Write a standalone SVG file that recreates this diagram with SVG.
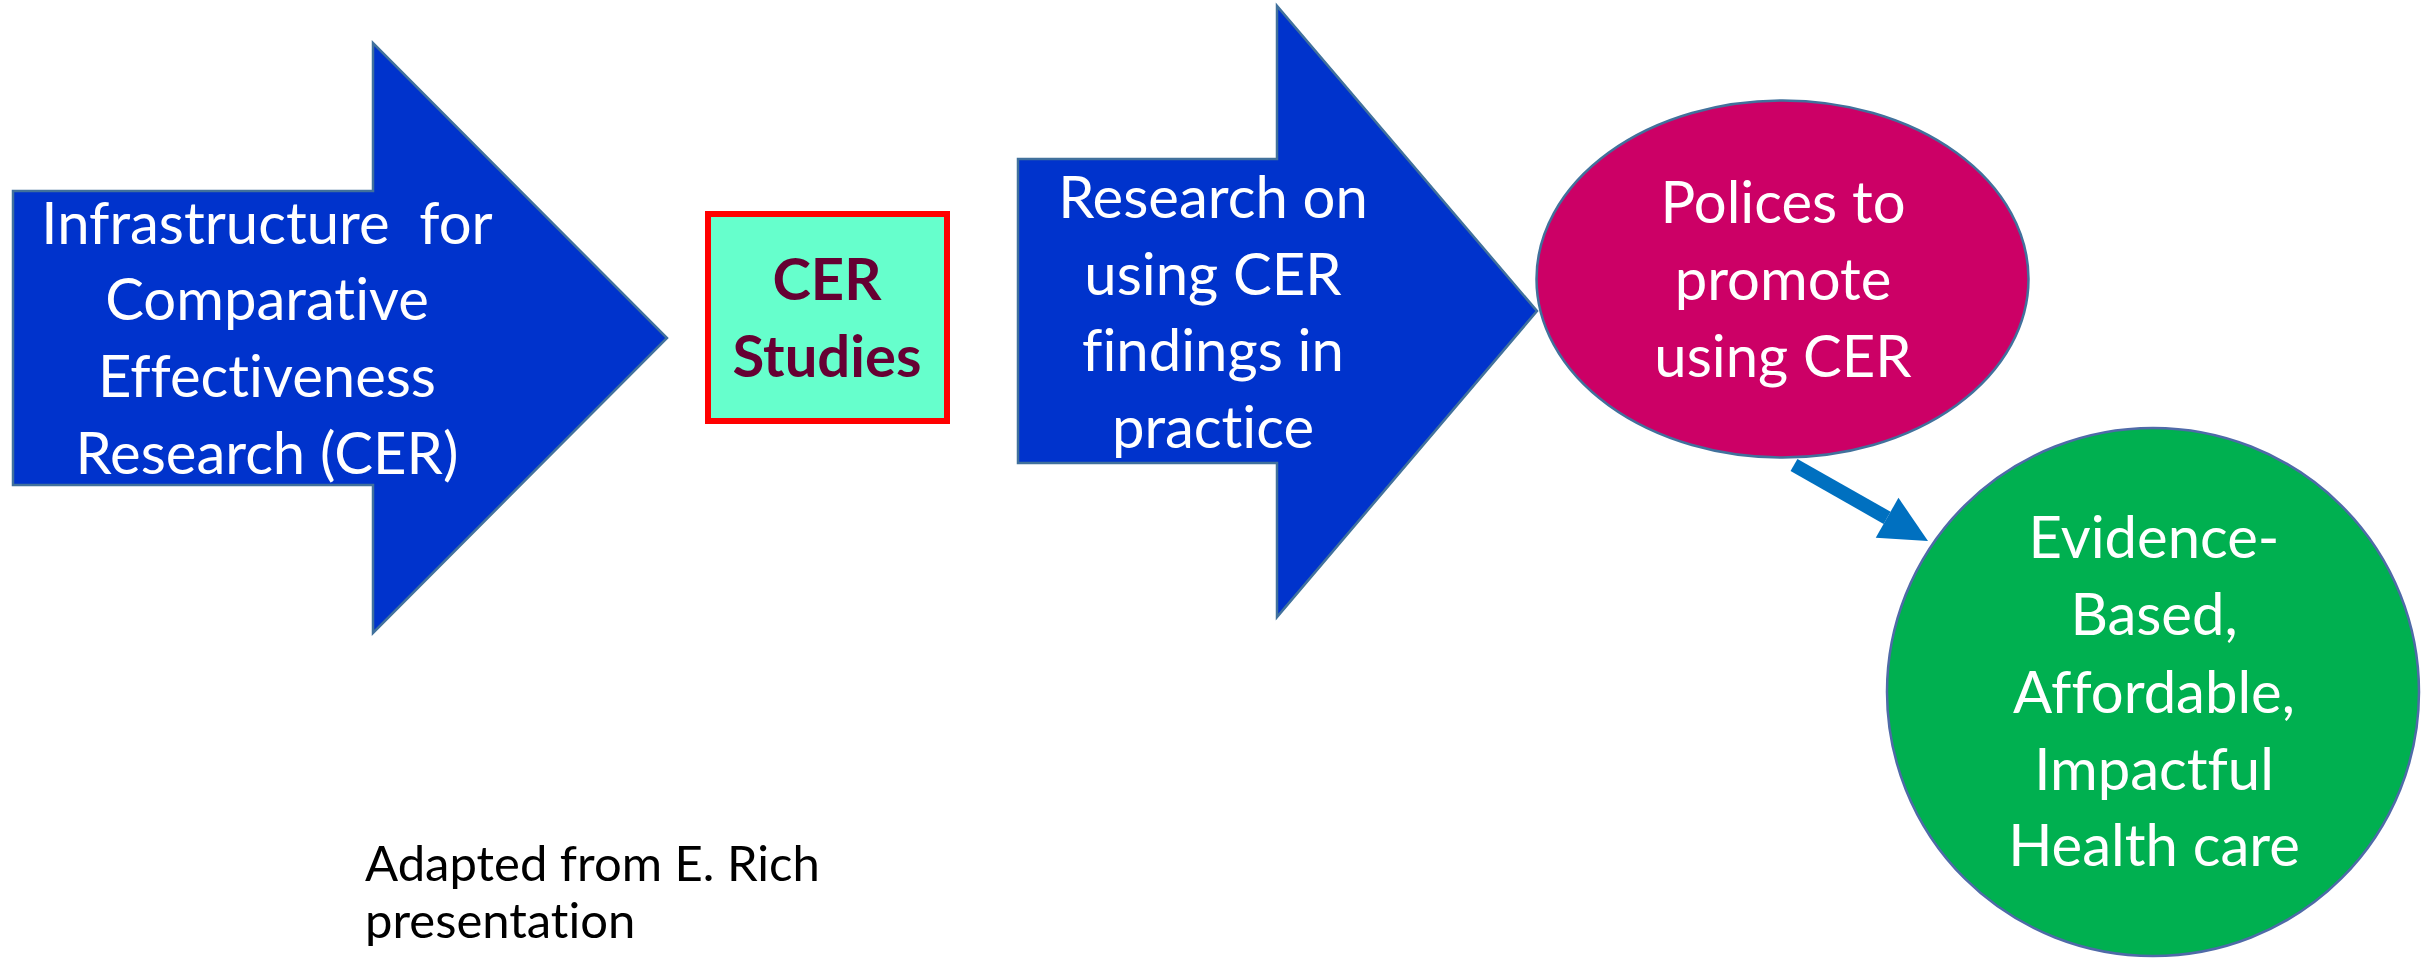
<svg xmlns="http://www.w3.org/2000/svg" width="2425" height="963" viewBox="0 0 2425 963">
<style>
.shape{stroke:#41719C;stroke-width:2.5;stroke-linejoin:miter}
.blue{fill:#0033CC}
text{font-family:Lato,"Liberation Sans",sans-serif;font-variant-ligatures:none;font-feature-settings:"liga" 0,"clig" 0}
.t{font-size:58px;fill:#FFFFFF;text-anchor:middle}
.b{font-size:58px;font-weight:bold;fill:#660033;text-anchor:middle}
.note{font-size:49px;fill:#000000}
</style>
<defs>
<marker id="head" markerUnits="userSpaceOnUse" markerWidth="48" markerHeight="46" refX="0" refY="23" orient="auto" overflow="visible">
<path d="M0,0 L47,23 L0,46 Z" fill="#0070C0"/>
</marker>
</defs>
<rect width="2425" height="963" fill="#FFFFFF"/>
<g id="infrastructure">
<polygon class="shape blue" points="13,191 373,191 373,43 667,338 373,633 373,485 13,485"/>
<text class="t" xml:space="preserve"><tspan x="267" y="244">Infrastructure  for</tspan><tspan x="267" y="320">Comparative</tspan><tspan x="267" y="397">Effectiveness</tspan><tspan x="267" y="474">Research (CER)</tspan></text>
</g>
<g id="cer-studies">
<rect x="708" y="214" width="239" height="207" fill="#66FFCC" stroke="#FF0000" stroke-width="6"/>
<text class="b"><tspan x="827" y="300">CER</tspan><tspan x="827" y="377">Studies</tspan></text>
</g>
<g id="research">
<polygon class="shape blue" points="1018,159 1277,159 1277,6 1537,311 1277,617 1277,463 1018,463"/>
<text class="t"><tspan x="1213" y="218">Research on</tspan><tspan x="1213" y="295">using CER</tspan><tspan x="1213" y="371">findings in</tspan><tspan x="1213" y="448">practice</tspan></text>
</g>
<g id="policies">
<ellipse class="shape" cx="1782.5" cy="279" rx="246" ry="178.5" fill="#CC0066"/>
<text class="t"><tspan x="1783" y="223">Polices to</tspan><tspan x="1783" y="300">promote</tspan><tspan x="1783" y="377">using CER</tspan></text>
</g>
<g id="outcome">
<ellipse cx="2153" cy="692" rx="266" ry="264" fill="#00B050" stroke="#4F6AA8" stroke-width="2.5"/>
<text class="t"><tspan x="2154" y="558">Evidence-</tspan><tspan x="2154" y="635">Based,</tspan><tspan x="2154" y="713">Affordable,</tspan><tspan x="2154" y="790">Impactful</tspan><tspan x="2154" y="866">Health care</tspan></text>
</g>
<g id="connectors">
<line x1="1794" y1="465" x2="1887.1" y2="517.8" stroke="#0070C0" stroke-width="14" marker-end="url(#head)"/>
</g>
<g id="credit">
<text class="note"><tspan x="365" y="881">Adapted from E. Rich</tspan><tspan x="365" y="938">presentation</tspan></text>
</g>
</svg>
